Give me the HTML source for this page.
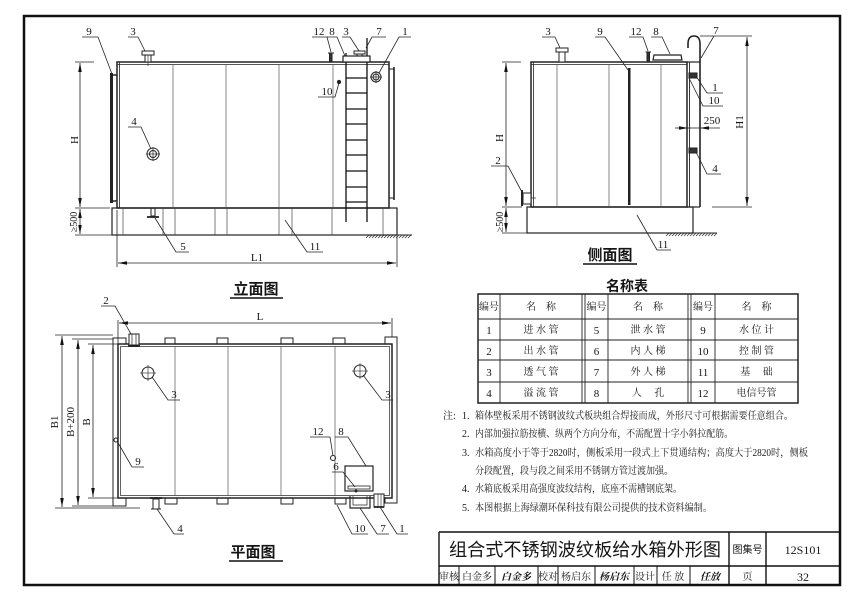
<!DOCTYPE html>
<html><head><meta charset="utf-8"><style>
html,body{margin:0;padding:0;background:#fff;}
svg{display:block;}
text{font-family:"Liberation Serif","Noto Serif CJK SC",serif;fill:#151515;}
.cn{font-family:"Liberation Sans","Noto Sans CJK SC",sans-serif;}
.b{font-weight:bold;}
</style></head><body>
<svg width="862" height="593" viewBox="0 0 862 593" xmlns="http://www.w3.org/2000/svg">
<defs>
<marker id="a" viewBox="0 0 9 3.6" refX="9" refY="1.8" markerWidth="9" markerHeight="3.6" orient="auto-start-reverse" markerUnits="userSpaceOnUse">
<path d="M0,0 L9,1.8 L0,3.6 z" fill="#111"/></marker>
</defs>
<rect width="862" height="593" fill="#fff"/>
<!-- frame -->
<rect x="24" y="16" width="816" height="569" fill="none" stroke="#111" stroke-width="2.5"/>

<!-- ============ ELEVATION ============ -->
<g stroke="#222" fill="none" stroke-width="1">
<rect x="117" y="62" width="272" height="146" stroke-width="1.5"/>
<line x1="117" y1="64.5" x2="389" y2="64.5" stroke-width="0.8"/>
<line x1="119.5" y1="62" x2="119.5" y2="208" stroke-width="0.8"/>
<g stroke-width="0.7" stroke="#555">
<line x1="173" y1="64" x2="173" y2="207"/><line x1="226" y1="64" x2="226" y2="207"/>
<line x1="279" y1="64" x2="279" y2="207"/><line x1="333" y1="64" x2="333" y2="207"/>
</g>
<rect x="112" y="208" width="285" height="27" stroke-width="1.2"/>
<g stroke-width="0.7" stroke="#444">
<line x1="123" y1="208" x2="123" y2="235"/><line x1="163" y1="208" x2="163" y2="235"/>
<line x1="175" y1="208" x2="175" y2="235"/><line x1="215" y1="208" x2="215" y2="235"/>
<line x1="227" y1="208" x2="227" y2="235"/><line x1="279" y1="208" x2="279" y2="235"/>
<line x1="292" y1="208" x2="292" y2="235"/><line x1="332" y1="208" x2="332" y2="235"/>
<line x1="383" y1="208" x2="383" y2="235"/>
</g>
<!-- gauge 9 -->
<rect x="110" y="73" width="3" height="130" fill="#222" stroke="none"/>
<line x1="110" y1="75" x2="117" y2="75" stroke-width="1.5"/><line x1="110" y1="201" x2="117" y2="201" stroke-width="1.5"/>
<!-- right rod -->
<line x1="394" y1="67" x2="394" y2="200" stroke-width="1.6"/>
<line x1="389" y1="69" x2="394" y2="69"/><line x1="389" y1="198" x2="394" y2="198"/>
<!-- ladder -->
<g stroke-width="1.3" stroke="#111">
<line x1="346" y1="53" x2="346" y2="222"/><line x1="367" y1="38" x2="367" y2="222"/>
<line x1="346" y1="78" x2="367" y2="78"/><line x1="346" y1="93" x2="367" y2="93"/>
<line x1="346" y1="109" x2="367" y2="109"/><line x1="346" y1="124" x2="367" y2="124"/>
<line x1="346" y1="140" x2="367" y2="140"/><line x1="346" y1="155" x2="367" y2="155"/>
<line x1="346" y1="171" x2="367" y2="171"/><line x1="346" y1="187" x2="367" y2="187"/>
<line x1="346" y1="202" x2="367" y2="202"/>
</g>
<rect x="343" y="56" width="27" height="6" fill="#fff" stroke-width="1.2"/>
<rect x="354" y="51" width="11" height="3" fill="#fff"/>
<line x1="357" y1="54" x2="357" y2="56"/><line x1="362" y1="54" x2="362" y2="56"/>
<!-- vent 3 -->
<rect x="142" y="51" width="12" height="4" fill="#fff"/>
<rect x="145" y="55" width="6" height="7" fill="#fff"/>
<line x1="148" y1="55" x2="148" y2="66" stroke-width="0.6"/>
<!-- 12 -->
<rect x="329.5" y="53" width="2.5" height="9" fill="#333"/>
<line x1="328" y1="53" x2="334" y2="53"/>
<!-- 1 -->
<circle cx="376" cy="77" r="5"/><circle cx="376" cy="77" r="3"/>
<line x1="370" y1="77" x2="382" y2="77" stroke-width="0.7"/><line x1="376" y1="71" x2="376" y2="83" stroke-width="0.7"/>
<!-- 4 -->
<circle cx="153" cy="154" r="6"/><circle cx="153" cy="154" r="3.5"/>
<line x1="146" y1="154" x2="160" y2="154" stroke-width="0.7"/><line x1="153" y1="147" x2="153" y2="161" stroke-width="0.7"/>
<circle cx="339" cy="82" r="1.6" fill="#222"/>
<!-- 5 -->
<rect x="151" y="208" width="4" height="8"/>
<line x1="147" y1="217" x2="159" y2="217" stroke-width="1.8"/>
<!-- ground hatch -->
<line x1="365" y1="235" x2="412" y2="235"/>
<path d="M366,238 l3,-3 m0,3 l3,-3 m0,3 l3,-3 m0,3 l3,-3 m0,3 l3,-3 m0,3 l3,-3 m0,3 l3,-3 m0,3 l3,-3 m0,3 l3,-3 m0,3 l3,-3 m0,3 l3,-3 m0,3 l3,-3 m0,3 l3,-3 m0,3 l3,-3 m0,3 l3,-3" stroke-width="0.7"/>
<!-- leaders -->
<g stroke-width="0.8">
<path d="M82,37 H98 L112,74"/>
<path d="M128,37 H138 L145,51"/>
<path d="M312,37 H327 L331,52"/>
<path d="M327,37 H337 L345,56"/>
<path d="M342,37 H350 L359,51"/>
<path d="M386,37 H372 L366,48"/>
<path d="M411,37 H399 L379,73"/>
<path d="M318,97 H335 L339,83"/>
<path d="M128,127 H141 L151,149"/>
<path d="M189,252 H176 L155,218"/>
<path d="M323,252 H307 L285,220"/>
</g>
<!-- dims -->
<g stroke-width="0.8">
<line x1="75" y1="62" x2="94" y2="62"/><line x1="75" y1="208" x2="110" y2="208"/>
<line x1="75" y1="235" x2="112" y2="235"/>
<line x1="80" y1="63" x2="80" y2="207" marker-start="url(#a)" marker-end="url(#a)"/>
<line x1="80" y1="209" x2="80" y2="234" marker-start="url(#a)" marker-end="url(#a)"/>
<line x1="117" y1="210" x2="117" y2="267"/><line x1="397" y1="236" x2="397" y2="267"/>
<line x1="118" y1="263" x2="396" y2="263" marker-start="url(#a)" marker-end="url(#a)"/>
</g>
<line x1="230" y1="298" x2="283" y2="298" stroke-width="1.6" stroke="#111"/>
</g>
<g font-size="11" text-anchor="middle">
<text x="89" y="35">9</text><text x="133" y="35">3</text>
<text x="319" y="35">12</text><text x="332" y="35">8</text><text x="346" y="35">3</text>
<text x="379" y="35">7</text><text x="405" y="35">1</text>
<text x="327" y="95">10</text><text x="134" y="125">4</text>
<text x="183" y="250">5</text><text x="315" y="250">11</text>
<text x="257" y="261">L1</text>
<text transform="translate(78,140) rotate(-90)">H</text>
<text transform="translate(77,222) rotate(-90)" font-size="10">≥500</text>
</g>
<text x="256" y="294" font-size="15" text-anchor="middle" class="cn b">立面图</text>

<!-- ============ SIDE VIEW ============ -->
<g stroke="#222" fill="none" stroke-width="1">
<rect x="531" y="62" width="156" height="145" stroke-width="1.5"/>
<line x1="533.5" y1="62" x2="533.5" y2="207" stroke-width="0.8"/>
<line x1="531" y1="64.5" x2="687" y2="64.5" stroke-width="0.8"/>
<g stroke-width="0.7" stroke="#555">
<line x1="557" y1="64" x2="557" y2="206"/><line x1="609" y1="64" x2="609" y2="206"/>
<line x1="661" y1="64" x2="661" y2="206"/>
</g>
<rect x="628" y="68" width="2.5" height="137" fill="#222" stroke="none"/>
<line x1="689.5" y1="62" x2="689.5" y2="207" stroke-width="0.9"/>
<line x1="687" y1="207" x2="700" y2="207" stroke-width="1.2"/>
<line x1="687" y1="62" x2="700" y2="62" stroke-width="1.2"/>
<path d="M700,207 L700,44 Q700,36 694,36 Q688,36 688,44 L688,48" stroke-width="1.6"/>
<rect x="689" y="73" width="8" height="5" fill="#333"/>
<rect x="689" y="148" width="8" height="5" fill="#333"/>
<rect x="556" y="48" width="12" height="4" fill="#fff"/>
<rect x="559" y="52" width="6" height="10" fill="#fff"/>
<rect x="647" y="52" width="2.5" height="10" fill="#333"/>
<line x1="645.5" y1="52" x2="651" y2="52"/>
<path d="M653,60 L654,55 L681,55 L682,60 Z" fill="#fff" stroke-width="1.2"/>
<rect x="523" y="193" width="8" height="11" fill="#fff"/>
<line x1="522" y1="190" x2="522" y2="206" stroke-width="2"/>
<line x1="531" y1="198" x2="536" y2="198" stroke-width="0.7"/>
<rect x="527" y="207" width="166" height="26" stroke-width="1.2"/>
<line x1="665" y1="233" x2="717" y2="233"/>
<path d="M666,236 l3,-3 m0,3 l3,-3 m0,3 l3,-3 m0,3 l3,-3 m0,3 l3,-3 m0,3 l3,-3 m0,3 l3,-3 m0,3 l3,-3 m0,3 l3,-3 m0,3 l3,-3 m0,3 l3,-3 m0,3 l3,-3 m0,3 l3,-3 m0,3 l3,-3 m0,3 l3,-3 m0,3 l3,-3 m0,3 l3,-3" stroke-width="0.7"/>
<g stroke-width="0.8">
<path d="M542,37 H555 L560,48"/>
<path d="M595,37 H605 L628,70"/>
<path d="M629,37 H643 L648,51"/>
<path d="M651,37 H662 L670,54"/>
<line x1="700" y1="36" x2="752" y2="36"/>
<line x1="714" y1="36" x2="701" y2="58"/>
<path d="M723,93 H707 L696,76"/>
<path d="M723,106 H703 L689,78"/>
<path d="M721,174 H707 L696,152"/>
<path d="M491,166 H508 L523,194"/>
<path d="M671,250 H657 L637,215"/>
<line x1="712" y1="207" x2="752" y2="207"/>
<line x1="747" y1="37" x2="747" y2="206" marker-start="url(#a)" marker-end="url(#a)"/>
<line x1="675" y1="128" x2="688" y2="128" marker-end="url(#a)"/>
<line x1="720" y1="128" x2="700" y2="128" marker-end="url(#a)"/>
<line x1="688" y1="128" x2="700" y2="128"/>
<line x1="502" y1="62" x2="521" y2="62"/><line x1="502" y1="233" x2="527" y2="233"/>
<line x1="502" y1="207" x2="522" y2="207"/>
<line x1="506" y1="63" x2="506" y2="206" marker-start="url(#a)" marker-end="url(#a)"/>
<line x1="506" y1="208" x2="506" y2="232" marker-start="url(#a)" marker-end="url(#a)"/>
</g>
<line x1="583" y1="264" x2="637" y2="264" stroke-width="1.6" stroke="#111"/>
</g>
<g font-size="11" text-anchor="middle">
<text x="548" y="35">3</text><text x="600" y="35">9</text><text x="636" y="35">12</text>
<text x="656" y="35">8</text><text x="716" y="34">7</text>
<text x="715" y="91">1</text><text x="714" y="104">10</text>
<text x="712" y="124">250</text><text x="715" y="172">4</text>
<text x="498" y="164">2</text><text x="663" y="248">11</text>
<text transform="translate(743,122) rotate(-90)">H1</text>
<text transform="translate(503,138) rotate(-90)">H</text>
<text transform="translate(503,222) rotate(-90)" font-size="10">≥500</text>
</g>
<text x="610" y="260" font-size="15" text-anchor="middle" class="cn b">侧面图</text>

<!-- ============ TABLE ============ -->
<text x="627" y="291" font-size="14" text-anchor="middle" class="cn b">名称表</text>
<g stroke="#222" fill="none">
<rect x="478" y="294" width="320" height="109" stroke-width="1.5"/>
<g stroke-width="0.9">
<line x1="478" y1="319" x2="798" y2="319"/><line x1="478" y1="340" x2="798" y2="340"/>
<line x1="478" y1="360" x2="798" y2="360"/><line x1="478" y1="382" x2="798" y2="382"/>
<line x1="500" y1="294" x2="500" y2="403"/><line x1="582" y1="294" x2="582" y2="403"/>
<line x1="585" y1="294" x2="585" y2="403"/><line x1="608" y1="294" x2="608" y2="403"/>
<line x1="688" y1="294" x2="688" y2="403"/><line x1="691" y1="294" x2="691" y2="403"/>
<line x1="715" y1="294" x2="715" y2="403"/>
</g>
</g>
<g font-size="10" text-anchor="middle" class="cn">
<text x="489" y="310">编号</text><text x="541" y="310">名　称</text>
<text x="596.5" y="310">编号</text><text x="648" y="310">名　称</text>
<text x="703" y="310">编号</text><text x="756.5" y="310">名　称</text>
<text x="541" y="333">进 水 管</text><text x="541" y="354">出 水 管</text>
<text x="541" y="375">透 气 管</text><text x="541" y="396">溢 流 管</text>
<text x="648" y="333">泄 水 管</text><text x="648" y="354">内 人 梯</text>
<text x="648" y="375">外 人 梯</text><text x="648" y="396">人　 孔</text>
<text x="756.5" y="333">水 位 计</text><text x="756.5" y="354">控 制 管</text>
<text x="756.5" y="375">基　 础</text><text x="756.5" y="396">电信号管</text>
</g>
<g font-size="11" text-anchor="middle">
<text x="489" y="334">1</text><text x="489" y="355">2</text><text x="489" y="376">3</text><text x="489" y="397">4</text>
<text x="596.5" y="334">5</text><text x="596.5" y="355">6</text><text x="596.5" y="376">7</text><text x="596.5" y="397">8</text>
<text x="703" y="334">9</text><text x="703" y="355">10</text><text x="703" y="376">11</text><text x="703" y="397">12</text>
</g>

<!-- ============ NOTES ============ -->
<g font-size="10" class="cn">
<text x="443" y="419">注:</text>
<text x="462" y="419">1.</text><text x="475" y="419" textLength="318" lengthAdjust="spacingAndGlyphs">箱体壁板采用不锈钢波纹式板块组合焊接而成，外形尺寸可根据需要任意组合。</text>
<text x="462" y="437">2.</text><text x="475" y="437" textLength="258" lengthAdjust="spacingAndGlyphs">内部加强拉筋按横、纵两个方向分布，不需配置十字小斜拉配筋。</text>
<text x="462" y="456">3.</text><text x="475" y="456" textLength="333" lengthAdjust="spacingAndGlyphs">水箱高度小于等于2820时，侧板采用一段式上下贯通结构；高度大于2820时，侧板</text>
<text x="475" y="474" textLength="198" lengthAdjust="spacingAndGlyphs">分段配置，段与段之间采用不锈钢方管过渡加强。</text>
<text x="462" y="492">4.</text><text x="475" y="492" textLength="207" lengthAdjust="spacingAndGlyphs">水箱底板采用高强度波纹结构，底座不需槽钢底架。</text>
<text x="462" y="511">5.</text><text x="475" y="511" textLength="237" lengthAdjust="spacingAndGlyphs">本图根据上海绿潮环保科技有限公司提供的技术资料编制。</text>
</g>

<!-- ============ PLAN ============ -->
<g stroke="#222" fill="none" stroke-width="1">
<rect x="113" y="338" width="13" height="168" fill="#fff"/>
<rect x="385" y="337" width="12" height="166" fill="#fff"/>
<rect x="118" y="344" width="274" height="154" fill="#fff" stroke-width="1.5"/>
<rect x="120.5" y="346.5" width="269" height="149" stroke-width="0.7"/>
<g stroke-width="0.7" stroke="#555">
<line x1="175" y1="346" x2="175" y2="496"/><line x1="228" y1="346" x2="228" y2="496"/>
<line x1="281" y1="346" x2="281" y2="496"/><line x1="335" y1="346" x2="335" y2="496"/>
</g>
<rect x="165" y="338" width="10" height="6"/><rect x="217" y="338" width="11" height="6"/>
<rect x="281" y="338" width="12" height="6"/><rect x="333" y="338" width="12" height="6"/>
<rect x="165" y="498" width="12" height="6"/><rect x="217" y="498" width="11" height="6"/>
<rect x="281" y="498" width="12" height="6"/><rect x="335" y="498" width="11" height="6"/>
<rect x="129" y="334" width="10" height="11" fill="#fff"/>
<line x1="132" y1="334" x2="132" y2="345" stroke-width="0.7"/><line x1="136" y1="334" x2="136" y2="345" stroke-width="0.7"/>
<line x1="128" y1="346" x2="140" y2="346" stroke-width="1.8"/>
<line x1="150" y1="498" x2="162" y2="498" stroke-width="1.8"/>
<rect x="153" y="499" width="6" height="10"/>
<line x1="151" y1="509" x2="161" y2="509"/>
<circle cx="148" cy="373" r="6"/><circle cx="360" cy="371" r="6"/>
<line x1="140" y1="373" x2="156" y2="373" stroke-width="0.6"/><line x1="148" y1="365" x2="148" y2="381" stroke-width="0.6"/>
<line x1="352" y1="371" x2="368" y2="371" stroke-width="0.6"/><line x1="360" y1="363" x2="360" y2="379" stroke-width="0.6"/>
<circle cx="116" cy="440" r="2"/>
<circle cx="333" cy="458" r="2.5"/>
<rect x="345" y="466" width="28" height="25" fill="#fff" stroke-width="1.2"/>
<rect x="348" y="486" width="22" height="3" stroke-width="0.8"/>
<circle cx="356" cy="491" r="1" fill="#222"/>
<path d="M350,496 V508 H370 V496" stroke-width="1.2"/>
<path d="M353,496 V505 H367 V496" stroke-width="0.7"/>
<rect x="374" y="494" width="10" height="13" fill="#fff"/>
<line x1="374" y1="507" x2="384" y2="507" stroke-width="1.8"/>
<line x1="378" y1="494" x2="378" y2="507" stroke-width="0.6"/><line x1="381" y1="494" x2="381" y2="507" stroke-width="0.6"/>
<g stroke-width="0.8">
<path d="M101,306 H115 L131,334"/>
<path d="M180,400 H168 L152,377"/>
<path d="M393,400 H382 L363,375"/>
<path d="M144,467 H132 L117,441"/>
<path d="M310,437 H330 L333,456"/>
<path d="M335,437 H348 L366,466"/>
<path d="M332,472 H343 L355,487"/>
<path d="M184,534 H174 L157,509"/>
<path d="M368,534 H352 L337,505"/>
<path d="M389,534 H377 L360,508"/>
<path d="M408,534 H397 L380,507"/>
<line x1="118" y1="320" x2="118" y2="344"/><line x1="392" y1="318" x2="392" y2="337"/>
<line x1="119" y1="323" x2="391" y2="323" marker-start="url(#a)" marker-end="url(#a)"/>
<line x1="55" y1="335" x2="113" y2="335"/><line x1="55" y1="508" x2="140" y2="508"/>
<line x1="72" y1="339" x2="113" y2="339"/><line x1="72" y1="506" x2="113" y2="506"/>
<line x1="88" y1="344" x2="118" y2="344"/><line x1="88" y1="498" x2="118" y2="498"/>
<line x1="62" y1="336" x2="62" y2="507" marker-start="url(#a)" marker-end="url(#a)"/>
<line x1="78" y1="340" x2="78" y2="505" marker-start="url(#a)" marker-end="url(#a)"/>
<line x1="93" y1="345" x2="93" y2="497" marker-start="url(#a)" marker-end="url(#a)"/>
</g>
<line x1="229" y1="561" x2="283" y2="561" stroke-width="1.6" stroke="#111"/>
</g>
<g font-size="11" text-anchor="middle">
<text x="106" y="304">2</text><text x="260" y="320">L</text>
<text x="174" y="398">3</text><text x="388" y="398">3</text>
<text x="138" y="465">9</text><text x="318" y="435">12</text><text x="341" y="435">8</text>
<text x="336" y="470">6</text><text x="180" y="532">4</text>
<text x="360" y="532">10</text><text x="383" y="532">7</text><text x="402" y="532">1</text>
<text transform="translate(58,422) rotate(-90)">B1</text>
<text transform="translate(74,422) rotate(-90)">B+200</text>
<text transform="translate(90,422) rotate(-90)">B</text>
</g>
<text x="253" y="557" font-size="15" text-anchor="middle" class="cn b">平面图</text>

<!-- ============ TITLE BLOCK ============ -->
<g stroke="#111" fill="none" stroke-width="1.4">
<line x1="439" y1="532" x2="840" y2="532"/>
<line x1="439" y1="532" x2="439" y2="585"/>
<line x1="439" y1="566" x2="840" y2="566"/>
<line x1="729" y1="532" x2="729" y2="585"/><line x1="766" y1="532" x2="766" y2="585"/>
<g stroke-width="1">
<line x1="459" y1="566" x2="459" y2="585"/><line x1="495" y1="566" x2="495" y2="585"/>
<line x1="538" y1="566" x2="538" y2="585"/><line x1="558" y1="566" x2="558" y2="585"/>
<line x1="595" y1="566" x2="595" y2="585"/><line x1="634" y1="566" x2="634" y2="585"/>
<line x1="657" y1="566" x2="657" y2="585"/><line x1="690" y1="566" x2="690" y2="585"/>
</g>
</g>
<text x="585" y="556" font-size="18" text-anchor="middle" class="cn" textLength="272" lengthAdjust="spacingAndGlyphs">组合式不锈钢波纹板给水箱外形图</text>
<text x="747.5" y="553" font-size="10" text-anchor="middle" class="cn">图集号</text>
<text x="803" y="554" font-size="12" text-anchor="middle">12S101</text>
<g font-size="10" text-anchor="middle" class="cn">
<text x="449" y="580">审核</text><text x="477" y="580">白金多</text>
<text x="516" y="580" font-weight="bold" font-style="italic">白金多</text>
<text x="548" y="580">校对</text><text x="576" y="580">杨启东</text>
<text x="614" y="580" font-weight="bold" font-style="italic">杨启东</text>
<text x="645" y="580">设计</text><text x="673" y="580">任 放</text>
<text x="710" y="580" font-weight="bold" font-style="italic">任放</text>
<text x="747.5" y="580">页</text>
</g>
<text x="803" y="581" font-size="12" text-anchor="middle">32</text>
</svg>
</body></html>
